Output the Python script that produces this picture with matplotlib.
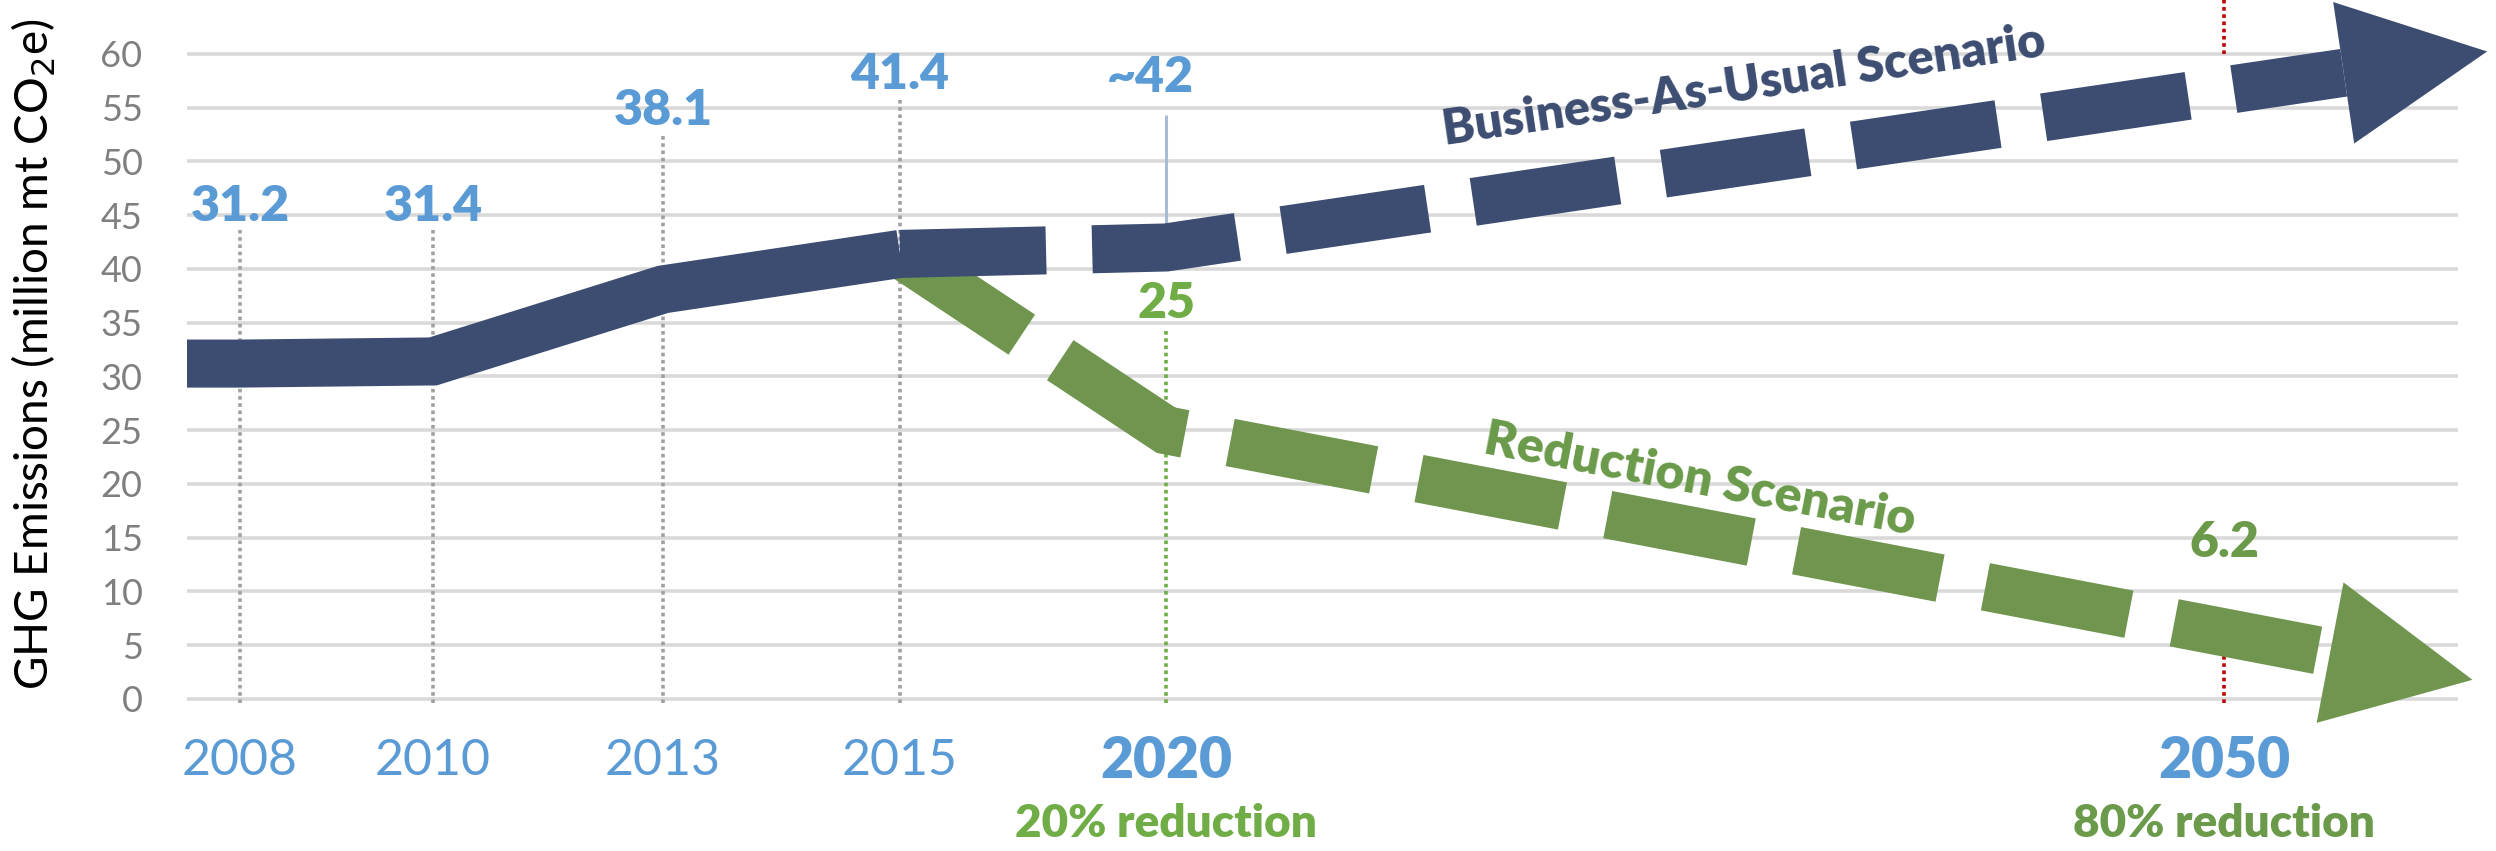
import numpy as np
import matplotlib
matplotlib.use('Agg')
import matplotlib.pyplot as plt
from matplotlib.patches import Polygon

# GHG emissions, million mt CO2e
hist_years = [2008, 2010, 2013, 2015]
hist_values = [31.2, 31.4, 38.1, 41.4]
bau_years = [2015, 2020, 2050]
bau_values = [41.4, 42, 56.6]
red_years = [2015, 2020, 2050]
red_values = [41.4, 25, 6.2]

# labels over the dotted year markers
hist_labels = ['31.2', '31.4', '38.1', '41.4']
bau_2020_label = '~42'
red_labels = ['25', '6.2']
target_notes = ['20% reduction', '80% reduction']

# year axis is stretched unevenly: position of each year on the axis
axis_years = [2008, 2010, 2013, 2015, 2020, 2050]
axis_pos = [240, 433, 663, 900, 1166, 2224]

NAVY = '#3C4D71'
GREEN = '#6F954F'
GREEN_LT = '#70AD47'
GREEN_DK = '#6A9A4A'
BLUE = '#5B9BD5'
GREY = '#7F7F7F'
HEAVY = 'heavy'

plt.rcParams['font.family'] = ['Lato', 'DejaVu Sans']

kx = np.array(axis_years, float)
kp = np.array(axis_pos, float)
s_lo = (kp[1] - kp[0]) / (kx[1] - kx[0])
s_hi = (kp[-1] - kp[-2]) / (kx[-1] - kx[-2])


def year_to_pos(x):
    x = np.asarray(x, float)
    p = np.interp(x, kx, kp)
    p = np.where(x < kx[0], kp[0] + (x - kx[0]) * s_lo, p)
    p = np.where(x > kx[-1], kp[-1] + (x - kx[-1]) * s_hi, p)
    return p


def pos_to_year(p):
    p = np.asarray(p, float)
    x = np.interp(p, kp, kx)
    x = np.where(p < kp[0], kx[0] + (p - kp[0]) / s_lo, x)
    x = np.where(p > kp[-1], kx[-1] + (p - kp[-1]) / s_hi, x)
    return x


fig = plt.figure(figsize=(24.96, 8.51), dpi=100)
ax = fig.add_axes([187 / 2496, 0, 1 - 187 / 2496, 1])
ax.set_xscale('function', functions=(year_to_pos, pos_to_year))
x_left = float(pos_to_year(187))
ax.set_xlim(x_left, float(pos_to_year(2496)))
ax.set_ylim(-14.14, 65.02)
for s in ax.spines.values():
    s.set_visible(False)
ax.set_xticks([])
yticks = list(range(0, 61, 5))
ax.set_yticks(yticks)
ax.tick_params(axis='y', length=0, pad=32, labelsize=26, labelcolor=GREY)

# horizontal grid
ax.hlines(yticks, x_left, float(pos_to_year(2458)), color='#D9D9D9', lw=2.6, zorder=0)

fig.text(34 / 2496, 1 - 354 / 851, 'GHG Emissions (million mt CO$_2$e)',
         rotation=90, ha='center', va='center', fontsize=33, color='black')

band = 34.6
dash = (0, (3.04, 0.96))

# dotted year markers and value labels
label_base = [44.5, 44.5, 53.4, 56.7]
for yr, lab, yb in zip(hist_years, hist_labels, label_base):
    ax.vlines(yr, -0.4, yb - 0.8, colors='#A0A0A0', linestyles=(0, (1, 1)), lw=2.6, zorder=1)
    ax.text(yr, yb, lab, ha='center', va='baseline', fontsize=36,
            fontweight=HEAVY, color=BLUE, zorder=5)

# 2020 markers
ax.vlines(2020, -0.4, 34.3, colors=GREEN_LT, linestyles=(0, (1, 1)), lw=2.6, zorder=1)
ax.vlines(2020, bau_values[1], 54.3, colors='#A9BCD6', lw=2.2, zorder=1)
ax.text(2020 - 0.3, 56.5, bau_2020_label, ha='center', va='baseline', fontsize=36,
        fontweight=HEAVY, color=BLUE, zorder=5)
ax.text(2020, 35.4, red_labels[0], ha='center', va='baseline', fontsize=36,
        fontweight=HEAVY, color=GREEN_LT, zorder=5)

# 2050 markers
ax.vlines(2050, 60, 65.02, colors='#C00000', linestyles=(0, (1, 1)), lw=2.6, zorder=1)
ax.vlines(2050, -0.4, red_values[2], colors='#C00000', linestyles=(0, (1, 1)), lw=2.6, zorder=1)
ax.text(2050, 13.2, red_labels[1], ha='center', va='baseline', fontsize=36,
        fontweight=HEAVY, color=GREEN_DK, zorder=5)

# year labels under the axis
for yr in hist_years:
    ax.text(yr, -7.1, str(yr), ha='center', va='baseline', fontsize=36, color=BLUE)
for yr, note, c in zip([2020, 2050], target_notes, [GREEN_LT, GREEN_DK]):
    ax.text(yr, -7.35, str(yr), ha='center', va='baseline', fontsize=41,
            fontweight=HEAVY, color=BLUE)
    ax.text(yr, -12.8, note, ha='center', va='baseline', fontsize=33,
            fontweight=HEAVY, color=c)


def arrow_head(xs, ys, color, ext=115, length=145, width=143, z=3):
    p0 = ax.transData.transform((xs[-2], ys[-2]))
    p1 = ax.transData.transform((xs[-1], ys[-1]))
    d = (p1 - p0) / np.hypot(*(p1 - p0))
    n = np.array([-d[1], d[0]])
    base = p1 + d * ext
    tip = base + d * length
    pts = np.array([base + n * width / 2, tip, base - n * width / 2])
    inv = ax.transData.inverted()
    ax.add_patch(Polygon(inv.transform(pts), closed=True, facecolor=color,
                         edgecolor='none', zorder=z))
    bx, by = inv.transform(base)
    return bx, by, np.degrees(np.arctan2(d[1], d[0]))


# reduction scenario (under the BAU band)
bx, by, red_ang = arrow_head(red_years, red_values, GREEN, ext=108, z=2)
ax.plot(red_years + [bx], red_values + [by], color=GREEN, lw=band,
        linestyle=dash, dash_capstyle='butt', dash_joinstyle='miter', zorder=2)

# business-as-usual history and projection
ax.plot([x_left] + hist_years, [hist_values[0]] + hist_values, color=NAVY, lw=band,
        solid_capstyle='butt', solid_joinstyle='miter', zorder=3)
bx, by, bau_ang = arrow_head(bau_years, bau_values, NAVY, ext=121, z=3)
ax.plot(bau_years + [bx], bau_values + [by], color=NAVY, lw=band,
        linestyle=dash, dash_capstyle='butt', dash_joinstyle='miter', zorder=3)

# scenario names along the arrows
tx = float(pos_to_year(1744))
ty = np.interp(tx, bau_years, bau_values) + 7.0
ax.text(tx, ty, 'Business-As-Usual Scenario', rotation=bau_ang, rotation_mode='anchor',
        ha='center', va='center', fontsize=35, fontweight=HEAVY, color=NAVY, zorder=5)
tx = float(pos_to_year(1700))
ty = np.interp(tx, red_years, red_values) + 4.9
ax.text(tx, ty, 'Reduction Scenario', rotation=red_ang, rotation_mode='anchor',
        ha='center', va='center', fontsize=36, fontweight=HEAVY, color=GREEN_DK, zorder=5)

fig.savefig('out.png', dpi=100, facecolor='white')
